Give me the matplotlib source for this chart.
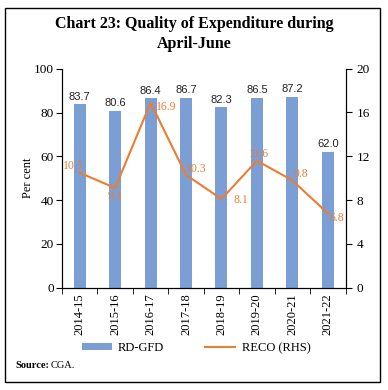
import matplotlib
matplotlib.use("Agg")
import matplotlib.pyplot as plt
from matplotlib.patches import Rectangle

years = ["2014-15", "2015-16", "2016-17", "2017-18", "2018-19", "2019-20", "2020-21", "2021-22"]
rd_gfd = [83.7, 80.6, 86.4, 86.7, 82.3, 86.5, 87.2, 62.0]
reco = [10.5, 9.1, 16.9, 10.3, 8.1, 11.6, 9.8, 6.8]

BAR_COLOR = "#7B9FD5"
LINE_COLOR = "#ED7D31"

plt.rcParams["font.family"] = "Liberation Serif"

fig = plt.figure(figsize=(3.88, 3.90), dpi=100)
ax = fig.add_axes([62 / 388, 1 - 287.7 / 390, (345.5 - 62) / 388, (287.7 - 68.7) / 390])

x = list(range(len(years)))
bars = ax.bar(x, rd_gfd, width=0.34, color=BAR_COLOR, label="RD-GFD", zorder=2)
ax.set_ylim(0, 100)
ax.set_xlim(-0.5, len(years) - 0.5)
ax.set_yticks(range(0, 101, 20))
ax.set_ylabel("Per cent", fontsize=9, labelpad=0)
ax.set_xticks(x)
ax.set_xticklabels(years, rotation=90, fontsize=9)
ax.tick_params(axis="x", length=0, pad=4)
ax.set_xticks([i + 0.5 for i in range(-1, len(years))], minor=True)
ax.tick_params(axis="x", which="minor", length=4, direction="out")
ax.tick_params(axis="y", labelsize=9.5, length=4, direction="out", pad=2)
ax.spines["top"].set_visible(False)

for xi, v in zip(x, rd_gfd):
    ax.annotate(f"{v:.1f}", (xi, v), xytext=(0, 2), textcoords="offset points",
                ha="center", va="bottom", fontsize=8, color="#222222",
                family="Liberation Sans")

ax2 = ax.twinx()
ax2.plot(x, reco, color=LINE_COLOR, lw=1.5, label="RECO (RHS)", zorder=3)
ax2.set_ylim(0, 20)
ax2.set_yticks(range(0, 21, 4))
ax2.tick_params(axis="y", labelsize=9.5, length=4, direction="out", pad=4)
ax2.spines["top"].set_visible(False)

# label offsets (points)
offsets = [(-4.5, 5), (0, -6), (11, -3), (7.5, 4.5), (14, -1), (1.5, 5), (6, 4.5), (6.5, -3.5)]
for xi, v, off in zip(x, reco, offsets):
    ax2.annotate(f"{v:.1f}", (xi, v), xytext=off, textcoords="offset points",
                 ha="center", va="center", fontsize=8.5, color=LINE_COLOR)

fig.text(0.5, 1 - 34 / 390, "Chart 23: Quality of Expenditure during\nApril-June",
         ha="center", va="center", fontsize=11.5, fontweight="bold", linespacing=1.25)

handles = [bars, ax2.get_lines()[0]]
fig.legend(handles, ["RD-GFD", "RECO (RHS)"], loc="center", ncol=2,
           bbox_to_anchor=(0.505, 1 - 348 / 390), frameon=False, fontsize=9,
           handlelength=2.4, columnspacing=3.3, handleheight=0.5, handletextpad=0.5)

src = fig.text(15 / 388, 1 - 365 / 390, "Source:", fontsize=7.5, fontweight="bold", va="center")
fig.canvas.draw()
bb = src.get_window_extent()
fig.text(bb.x1 / fig.bbox.width + 2 / 388, 1 - 365 / 390, "CGA.", fontsize=7.5, va="center")

fig.add_artist(Rectangle((5 / 388, 1 - 382 / 390), 375 / 388, 374 / 390,
                         transform=fig.transFigure, fill=False, lw=1, ec="black"))

fig.savefig("out.png", dpi=100)
